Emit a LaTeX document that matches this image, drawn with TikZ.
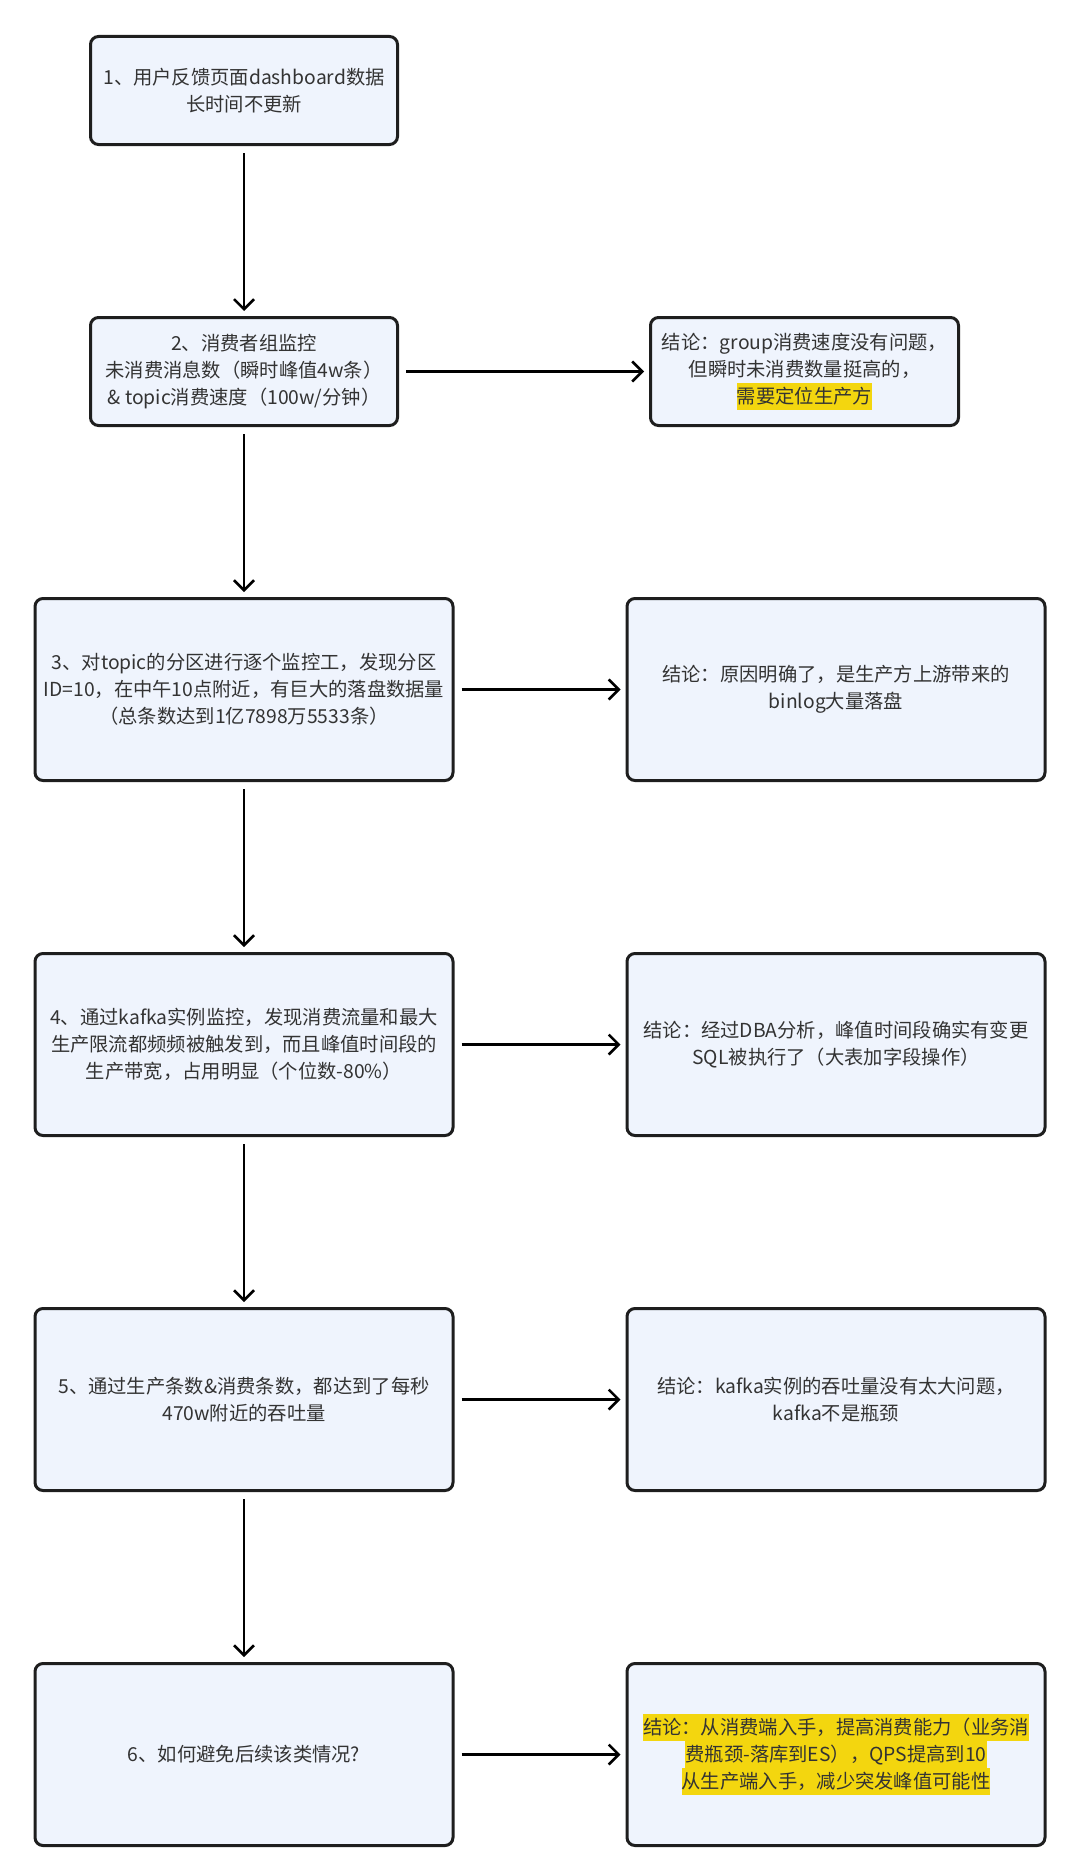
\documentclass[tikz,border=0pt]{standalone}
\usepackage{fontspec}
\setmainfont{Noto Sans CJK SC}
\usepackage{xcolor}
\usepackage{tikz}
\usetikzlibrary{arrows.meta, positioning}

\definecolor{boxfill}{HTML}{EFF4FD}
\definecolor{boxline}{HTML}{1E1E1E}
\definecolor{txtgray}{HTML}{333333}
\definecolor{hlyellow}{HTML}{F3D60F}

\newcommand{\hlline}[1]{{\setlength{\fboxsep}{0pt}\colorbox{hlyellow}{\rule[-7pt]{0pt}{27pt}#1}}}

\begin{document}
\begin{tikzpicture}[
        font=\fontsize{19.3pt}{27pt}\selectfont,
        box/.style = {rectangle, draw=boxline, fill=boxfill, line width=3pt, rounded corners=8pt, text=txtgray, align=center, inner sep=0pt},
        small_box/.style = {box, minimum width=307pt, minimum height=108pt},
        big_box/.style = {box, minimum width=418pt, minimum height=182pt},
        line/.style = {draw, line width=2.5pt, -{Straight Barb[length=10pt, width=20pt]}, shorten <=7pt, shorten >=5pt}
    ]
    \useasboundingbox (0,0) rectangle (1080pt,-1876pt);

    % Steps (left column)
    \node [small_box] (step1) at (244pt,-90.5pt) {1、用户反馈页面dashboard数据\\长时间不更新};
    \node [small_box, below=170pt of step1] (step2) {2、消费者组监控\\未消费消息数（瞬时峰值4w条）\\\& topic消费速度（100w/分钟）};
    \node [big_box, below=170pt of step2] (step3) {3、对topic的分区进行逐个监控工，发现分区\\ID=10，在中午10点附近，有巨大的落盘数据量\\（总条数达到1亿7898万5533条）};
    \node [big_box, below=170pt of step3] (step4) {4、通过kafka实例监控，发现消费流量和最大\\生产限流都频频被触发到，而且峰值时间段的\\生产带宽，占用明显（个位数-80\%）};
    \node [big_box, below=170pt of step4] (step5) {5、通过生产条数\&消费条数，都达到了每秒\\470w附近的吞吐量};
    \node [big_box, below=170pt of step5] (step6) {6、如何避免后续该类情况?};

    % Conclusions (right column)
    \node [small_box, minimum width=308pt, right=250pt of step2] (concl2) {结论：group消费速度没有问题，\\但瞬时未消费数量挺高的，\\\hlline{需要定位生产方}};
    \node [big_box, right=171pt of step3] (concl3) {结论：原因明确了，是生产方上游带来的\\binlog大量落盘};
    \node [big_box, right=171pt of step4] (concl4) {结论：经过DBA分析，峰值时间段确实有变更\\SQL被执行了（大表加字段操作）};
    \node [big_box, right=171pt of step5] (concl5) {结论：kafka实例的吞吐量没有太大问题，\\kafka不是瓶颈};
    \node [big_box, right=171pt of step6] (concl6) {\hlline{结论：从消费端入手，提高消费能力（业务消}\\\hlline{费瓶颈-落库到ES），QPS提高到10}\\\hlline{从生产端入手，减少突发峰值可能性}};

    % Edges
    \foreach \a/\b in {1/2, 2/3, 3/4, 4/5, 5/6}
        \path [line] (step\a) -- (step\b);
    \foreach \a in {2,...,6}
        \path [line] (step\a) -- (concl\a);

\end{tikzpicture}
\end{document}
